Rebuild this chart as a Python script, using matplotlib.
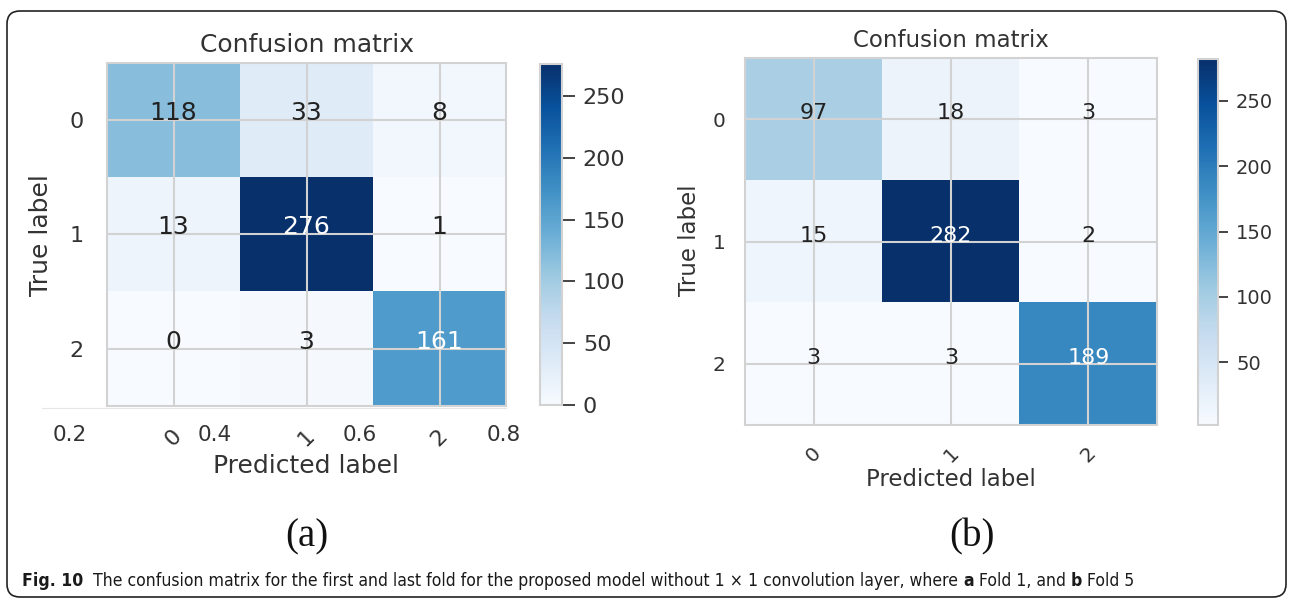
import numpy as np
import matplotlib
matplotlib.use("Agg")
import matplotlib.pyplot as plt
from matplotlib.patches import FancyBboxPatch
from matplotlib.transforms import IdentityTransform

# confusion matrices (rows = true class, cols = predicted class)
classes = ["0", "1", "2"]
fold1_cm = np.array([[118, 33, 8],
                     [13, 276, 1],
                     [0, 3, 161]])
fold5_cm = np.array([[97, 18, 3],
                     [15, 282, 2],
                     [3, 3, 189]])
# leftover axis ticks under panel (a)
stray_ticks = [0.2, 0.4, 0.6, 0.8]
panel_tags = ["(a)", "(b)"]
caption_parts = [("Fig. 10", "bold"),
                 ("The confusion matrix for the first and last fold for the proposed "
                  "model without 1 \u00d7 1 convolution layer, where", "normal"),
                 ("a", "bold"), ("Fold 1, and", "normal"),
                 ("b", "bold"), ("Fold 5", "normal")]
caption_gaps = [2, 1, 1, 1, 1]

W, H = 1291, 599
TXT = "#333333"
EDGE = "#d2d2d2"

fig = plt.figure(figsize=(W / 100, H / 100), dpi=100)
plt.rcParams["font.family"] = ["DejaVu Sans"]


def rect(x0, y0, x1, y1):
    # pixel box, top-left origin -> figure fraction
    return [x0 / W, 1 - y1 / H, (x1 - x0) / W, (y1 - y0) / H]


def fpos(x, y):
    return x / W, 1 - y / H


def draw_cm(ax, cax, cm, fs, xlab, ylab):
    im = ax.imshow(cm, interpolation="nearest", cmap=plt.cm.Blues, aspect="auto")
    ax.set_title("Confusion matrix", fontsize=fs["title"], color=TXT, pad=8)
    cb = fig.colorbar(im, cax=cax)
    cb.outline.set_edgecolor(EDGE)
    cb.outline.set_linewidth(1.5)
    cb.ax.tick_params(labelsize=fs["cbar"], labelcolor=TXT, color="#444444",
                      length=fs["clen"], width=1.4, pad=6)

    tick_marks = np.arange(len(classes))
    ax.set_xticks(tick_marks)
    ax.set_xticklabels(classes, rotation=45)
    ax.set_yticks(tick_marks)
    ax.set_yticklabels(classes)
    ax.tick_params(length=0, labelsize=fs["tick"], labelcolor=TXT)
    ax.tick_params(axis="x", pad=fs["xpad"])
    ax.tick_params(axis="y", pad=fs["ypad"])

    thresh = cm.max() / 2.
    for i in range(cm.shape[0]):
        for j in range(cm.shape[1]):
            ax.text(j, i, format(cm[i, j], "d"), ha="center", fontsize=fs["cell"],
                    color="white" if cm[i, j] > thresh else "#222222")

    ax.grid(True, color=EDGE, linewidth=1.5)
    for s in ax.spines.values():
        s.set_color(EDGE)
        s.set_linewidth(1.5)

    ax.set_xlabel("Predicted label", fontsize=fs["label"], color=TXT, va="center")
    ax.xaxis.set_label_coords(*fpos(*xlab), transform=fig.transFigure)
    ax.set_ylabel("True label", fontsize=fs["label"], color=TXT, va="center")
    ax.yaxis.set_label_coords(*fpos(*ylab), transform=fig.transFigure)


# panel (a): a stray axis sits underneath the heatmap
ax_under = fig.add_axes(rect(42, 63, 506, 408), zorder=0)
ax_under.set_facecolor("none")
ax_under.set_xlim(0.161, 0.803)
ax_under.set_xticks(stray_ticks)
ax_under.set_yticks([])
ax_under.tick_params(length=0, labelsize=15.5, labelcolor=TXT, pad=12)
for k, s in ax_under.spines.items():
    s.set_visible(k == "bottom")
    s.set_color("#e6e6e6")

ax_a = fig.add_axes(rect(107, 63, 506, 406), zorder=1)
cax_a = fig.add_axes(rect(540, 64, 562, 405))
draw_cm(ax_a, cax_a, fold1_cm,
        dict(title=18, cbar=16, clen=9, tick=16, xpad=14, ypad=17, cell=18, label=18),
        xlab=(306, 466), ylab=(41, 235))

ax_b = fig.add_axes(rect(745, 58, 1157, 425))
cax_b = fig.add_axes(rect(1198, 59, 1218, 425))
draw_cm(ax_b, cax_b, fold5_cm,
        dict(title=16.5, cbar=14, clen=7, tick=14.5, xpad=13, ypad=14, cell=16, label=16.5),
        xlab=(951, 480), ylab=(689, 240))

# sub-figure tags
for tag, x in zip(panel_tags, [307, 972]):
    fig.text(*fpos(x, 537), tag, ha="center", va="center", fontsize=28,
             family="Liberation Serif", color="#111111")

# caption, stretched to fill its line
cap_font = dict(family=["DejaVu Sans"], fontstretch="condensed")
renderer = fig.canvas.get_renderer()


def caption_width(size):
    parts = [fig.text(0, 0, s, fontsize=size, fontweight=w, **cap_font)
             for s, w in caption_parts]
    sp = fig.text(0, 0, "x x", fontsize=size, **cap_font)
    sp2 = fig.text(0, 0, "xx", fontsize=size, **cap_font)
    widths = [p.get_window_extent(renderer).width for p in parts]
    space = sp.get_window_extent(renderer).width - sp2.get_window_extent(renderer).width
    for p in parts + [sp, sp2]:
        p.remove()
    return widths, space


cap_x0, cap_x1, cap_base = 22, 1133, 586
w10, sp10 = caption_width(10)
total10 = sum(w10) + sp10 * sum(caption_gaps)
cap_size = 10 * (cap_x1 - cap_x0) / total10
widths, space = caption_width(cap_size)

x = cap_x0
for k, (s, w) in enumerate(caption_parts):
    fig.text(*fpos(x, cap_base), s, fontsize=cap_size, fontweight=w,
             color="#1a1a1a", va="baseline", **cap_font)
    x += widths[k]
    if k < len(caption_gaps):
        x += space * caption_gaps[k]

# rounded frame around everything
frame = FancyBboxPatch((7, 2), 1279, 586, boxstyle="round,pad=0,rounding_size=13",
                       transform=IdentityTransform(), fill=False,
                       edgecolor="#222222", linewidth=1.2)
fig.add_artist(frame)

fig.savefig("out.png", dpi=100)
